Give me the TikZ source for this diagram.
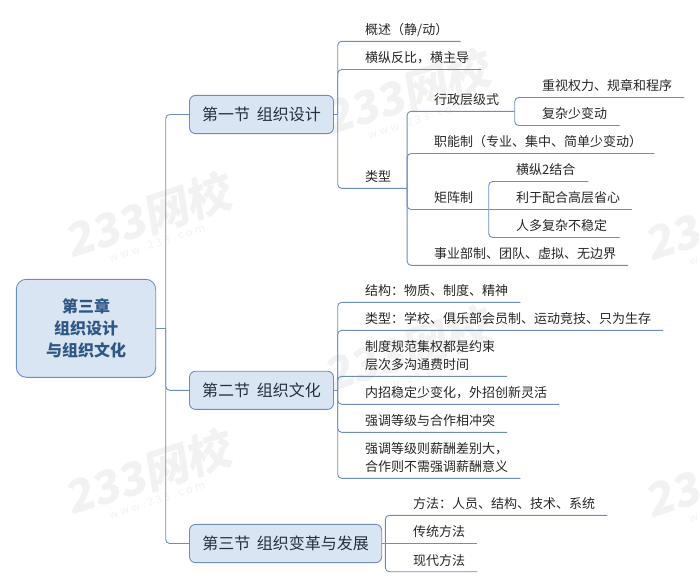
\documentclass[tikz,border=0pt]{standalone}
\usepackage{fontspec}
\setmainfont{Noto Sans CJK SC}
\definecolor{linkblue}{HTML}{6C8EBF}
\definecolor{boxblue}{HTML}{DAE5F3}
\definecolor{rootink}{HTML}{2F5785}
\definecolor{secink}{HTML}{25303F}
\definecolor{wmgray}{HTML}{F2F2F2}

\begin{document}
\begin{tikzpicture}[
    x=1pt, y=-1pt,
    root/.style={rectangle, draw=linkblue, fill=boxblue, line width=0.9pt, rounded corners=10pt, minimum width=139.4pt, minimum height=98pt, align=center, text=rootink, font=\fontsize{16pt}{22.3pt}\selectfont\bfseries},
    section/.style={rectangle, draw=linkblue, fill=boxblue, line width=0.9pt, rounded corners=6pt, minimum height=38.2pt, text=secink, font=\fontsize{16pt}{20pt}\selectfont},
    leaf/.style={anchor=south west, inner xsep=0pt, inner ysep=0pt, text depth=6.5pt, align=left, text=black!85, font=\fontsize{13pt}{17.8pt}\selectfont},
    twolines/.style={text depth=24.3pt},
    link/.style={draw=linkblue, line width=0.9pt, rounded corners=4pt},
    wmbig/.style={text=wmgray, rotate=18, xslant=0.15, font=\fontsize{45pt}{50pt}\selectfont\bfseries},
    wmsmall/.style={text=wmgray, rotate=18, font=\fontsize{11pt}{12pt}\selectfont\addfontfeatures{LetterSpace=25}}
]
\useasboundingbox (0,0) rectangle (700,587);
\clip (0,0) rectangle (700,587);

% Watermarks
\foreach \wx/\wy in {150/215, 409/92, 150/472, 409/349, 730/218, 730/475} {
    \node[wmbig] (wm\wx-\wy) at (\wx,\wy) {233网校};
    \node[wmsmall] (www\wx-\wy) at (\wx+7,\wy+28) {www.233.com};
}

% Root and sections
\node[root] (chapter) at (86,328.3) {第三章\\组织设计\\与组织文化};
\node[section, minimum width=144pt] (sec1) at (261.5,114.5) {第一节\hspace{3pt} 组织设计};
\node[section, minimum width=144pt] (sec2) at (261.5,390.3) {第二节\hspace{3pt} 组织文化};
\node[section, minimum width=192.2pt] (sec3) at (285.6,543.5) {第三节\hspace{3pt} 组织变革与发展};

% Trunk
\coordinate (trunk) at (165.7,328.3);
\draw[link] (chapter.east) -- (trunk);
\draw[link] (trunk) |- (sec1.west);
\draw[link] (trunk) |- (sec2.west);
\draw[link] (trunk) |- (sec3.west);

% Section 1 leaves
\node[leaf, text width=95.3pt] (gaishu) at (365,41.3) {概述（静/动）};
\node[leaf, text width=115.7pt] (hengzong) at (365,69.5) {横纵反比，横主导};
\node[leaf, text width=41.7pt] (leixing) at (365,188.3) {类型};
\coordinate (bus1) at (337.7,114.5);
\draw[link] (sec1.east) -- (bus1);
\draw[link] (bus1) |- (gaishu.south east);
\draw[link] (bus1) |- (hengzong.south east);
\draw[link] (bus1) |- (leixing.south east);

% Types
\node[leaf, text width=80.3pt] (xingzheng) at (434,111.3) {行政层级式};
\node[leaf, text width=220pt] (zhineng) at (434,153.5) {职能制（专业、集中、简单少变动）};
\node[leaf, text width=54.3pt] (juzhen) at (434,209.5) {矩阵制};
\node[leaf, text width=193.7pt] (shiye) at (434,265.3) {事业部制、团队、虚拟、无边界};
\draw[link] (leixing.south east) |- (xingzheng.south east);
\draw[link] (leixing.south east) |- (zhineng.south east);
\draw[link] (leixing.south east) |- (juzhen.south east);
\draw[link] (leixing.south east) |- (shiye.south east);

% Administrative hierarchy
\node[leaf, text width=142pt] (zhongshi) at (542,97.5) {重视权力、规章和程序};
\node[leaf, text width=77.3pt] (fuza) at (542,125.5) {复杂少变动};
\draw[link] (xingzheng.south east) |- (zhongshi.south east);
\draw[link] (xingzheng.south east) |- (fuza.south east);

% Matrix
\node[leaf, text width=72pt] (jiehe) at (516,181.5) {横纵2结合};
\node[leaf, text width=116pt] (peihe) at (516,209.5) {利于配合高层省心};
\node[leaf, text width=103.3pt] (renduo) at (516,237.5) {人多复杂不稳定};
\draw[link] (juzhen.south east) |- (jiehe.south east);
\draw[link] (juzhen.south east) -- (peihe.south east);
\draw[link] (juzhen.south east) |- (renduo.south east);

% Section 2 leaves
\node[leaf, text width=155pt] (jiegou) at (365,302.3) {结构：物质、制度、精神};
\node[leaf, text width=297.7pt] (leixingb) at (365,330.3) {类型：学校、俱乐部会员制、运动竞技、只为生存};
\node[leaf, twolines, text width=141.7pt] (zhidu) at (365,376.3) {制度规范集权都是约束\\层次多沟通费时间};
\node[leaf, text width=193.7pt] (neizhao) at (365,404.3) {内招稳定少变化，外招创新灵活};
\node[leaf, text width=141.7pt] (chongtu) at (365,432.3) {强调等级与合作相冲突};
\node[leaf, twolines, text width=155pt] (xinchou) at (365,478.3) {强调等级则薪酬差别大，\\合作则不需强调薪酬意义};
\coordinate (bus2) at (337.7,390.3);
\draw[link] (sec2.east) -- (bus2);
\foreach \leafname in {jiegou, leixingb, zhidu, neizhao, chongtu, xinchou} {
    \draw[link] (bus2) |- (\leafname.south east);
}

% Section 3 leaves
\node[leaf, text width=193.7pt] (fangfa) at (413,515.3) {方法：人员、结构、技术、系统};
\node[leaf, text width=64pt] (chuantong) at (413,543.5) {传统方法};
\node[leaf, text width=64pt] (xiandai) at (413,571.7) {现代方法};
\coordinate (bus3) at (385.3,543.5);
\draw[link] (sec3.east) -- (chuantong.south east);
\draw[link] (bus3) |- (fangfa.south east);
\draw[link] (bus3) |- (xiandai.south east);

\end{tikzpicture}
\end{document}
